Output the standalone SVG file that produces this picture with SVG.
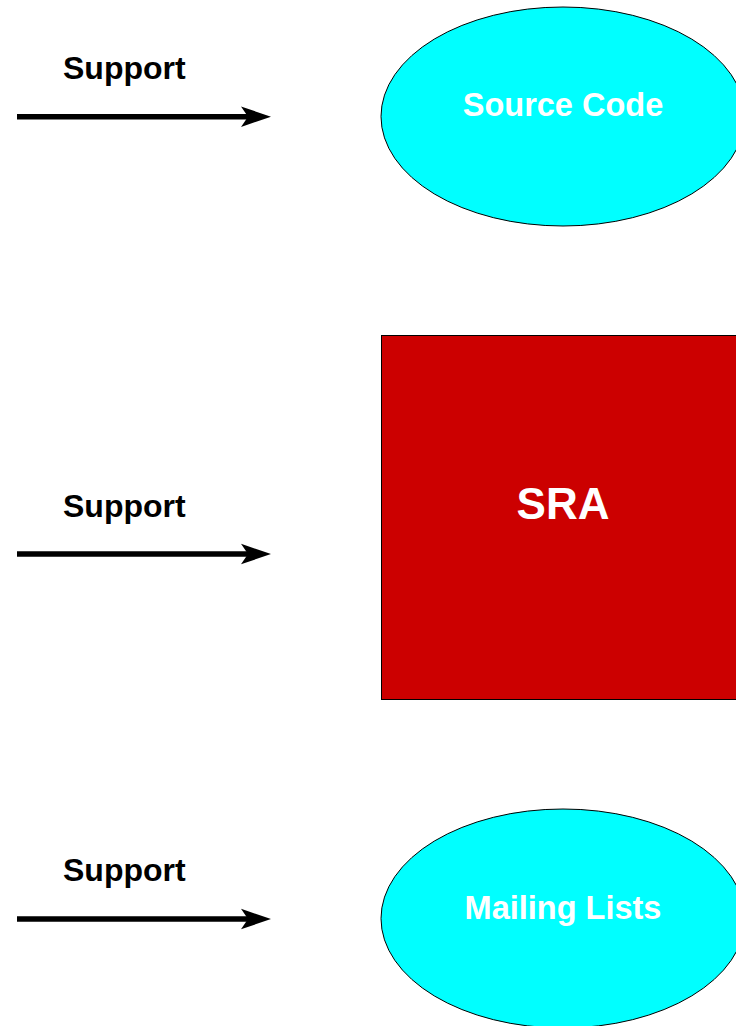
<svg xmlns="http://www.w3.org/2000/svg" width="736" height="1026" viewBox="0 0 736 1026">
<style>
.lbl{font-family:"Liberation Sans",Arial,sans-serif;font-weight:bold;font-size:32px;fill:#000}
.ntx{font-family:"Liberation Sans",Arial,sans-serif;font-weight:bold;font-size:32.5px;fill:#fff;text-anchor:middle}
.ell{fill:#00ffff;stroke:#000;stroke-width:1}
.shaft{stroke:#000;stroke-width:5.5;fill:none}
.head{fill:#000}
</style>
<rect width="736" height="1026" fill="#fff"/>
<g id="connectors">
  <g id="arrow1">
    <line class="shaft" x1="17" y1="116.7" x2="250" y2="116.7"/>
    <polygon class="head" points="271,116.7 241,106.5 248,116.7 241,127"/>
    <text class="lbl" x="63" y="79">Support</text>
  </g>
  <g id="arrow2">
    <line class="shaft" x1="17" y1="554" x2="250" y2="554"/>
    <polygon class="head" points="271,554 241,543.8 248,554 241,564.3"/>
    <text class="lbl" x="63" y="517">Support</text>
  </g>
  <g id="arrow3">
    <line class="shaft" x1="17" y1="919" x2="250" y2="919"/>
    <polygon class="head" points="271,919 241,908.8 248,919 241,929.3"/>
    <text class="lbl" x="63" y="881">Support</text>
  </g>
</g>
<g id="source-code">
  <ellipse class="ell" cx="563" cy="116.5" rx="182" ry="109.5"/>
  <text class="ntx" x="563" y="116">Source Code</text>
</g>
<g id="sra">
  <rect x="381.5" y="335.5" width="364" height="364" fill="#cc0000" stroke="#000" stroke-width="1"/>
  <text class="ntx" x="563" y="519" style="font-size:44px">SRA</text>
</g>
<g id="mailing-lists">
  <ellipse class="ell" cx="563" cy="918.5" rx="182" ry="109.5"/>
  <text class="ntx" x="563" y="919">Mailing Lists</text>
</g>
</svg>
